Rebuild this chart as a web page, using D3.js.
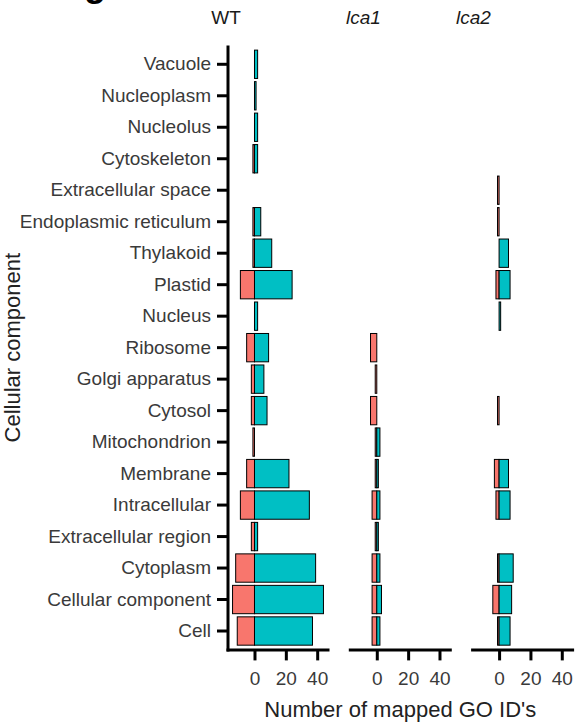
<!DOCTYPE html>
<html>
<head>
<meta charset="utf-8">
<script src="https://cdn.jsdelivr.net/npm/d3@7"></script>
<style>
  html, body { margin: 0; padding: 0; background: #fff; }
  text { font-family: "Liberation Sans", Arial, Helvetica, sans-serif; }
</style>
</head>
<body>
<svg id="chart" width="576" height="726"></svg>
<script>
// Cellular component categories, top to bottom
const categories = [
  "Vacuole", "Nucleoplasm", "Nucleolus", "Cytoskeleton", "Extracellular space",
  "Endoplasmic reticulum", "Thylakoid", "Plastid", "Nucleus", "Ribosome",
  "Golgi apparatus", "Cytosol", "Mitochondrion", "Membrane", "Intracellular",
  "Extracellular region", "Cytoplasm", "Cellular component", "Cell"
];

const genotypes = ["WT", "lca1", "lca2"];

// Number of mapped GO IDs per category: down-regulated (negative) and up-regulated (positive).
// null means no bar for that category.
const wtDown   = [null, null, null, -1, null, -1, -1, -9, null, -5, -2, -2, -1, -5, -9, -2, -12, -14, -11];
const wtUp     = [2, 1, 2, 2, null, 4, 11, 24, 2, 9, 6, 8, null, 22, 35, 2, 39, 44, 37];
const lca1Down = [null, null, null, null, null, null, null, null, null, -4, -1, -4, -1, -1, -3, -1, -3, -3, -3];
const lca1Up   = [null, null, null, null, null, null, null, null, null, null, null, null, 2, 1, 2, 1, 2, 3, 2];
const lca2Down = [null, null, null, null, -1, -1, null, -2, null, null, null, -1, null, -3, -2, null, -1, -4, -1];
const lca2Up   = [null, null, null, null, null, null, 6, 7, 1, null, null, null, null, 6, 7, null, 9, 8, 7];

const xTicks = [0, 20, 40];

const downByGroup = [wtDown, lca1Down, lca2Down];
const upByGroup = [wtUp, lca1Up, lca2Up];

const colorDown = "#F8766D";
const colorUp = "#00BFC4";

const svg = d3.select("#chart");

// layout
const panelW = 100, panelGap = 22.3, firstLeft = 228;
const plotTop = 45.4, plotBottom = 649.9;

const y = d3.scaleBand()
  .domain(categories)
  .range([plotTop, plotBottom])
  .paddingInner(0.1)
  .paddingOuter(0.15);

const allVals = downByGroup.concat(upByGroup).flat().filter(v => v !== null);
const ext = d3.extent(allVals);
const pad = (ext[1] - ext[0]) * 0.05;
const x = d3.scaleLinear().domain([ext[0] - pad, ext[1] + pad]).range([0, panelW]);

// panel label
svg.append("text")
  .attr("x", 84).attr("y", -4)
  .attr("font-size", 36).attr("font-weight", "bold")
  .attr("fill", "#000")
  .text("g");

// y axis (shared, left of first panel)
const yAxis = svg.append("g")
  .attr("transform", `translate(${firstLeft},0)`)
  .call(d3.axisLeft(y).tickSize(11).tickPadding(6).tickSizeOuter(0));
yAxis.select(".domain").remove();
yAxis.selectAll(".tick line").attr("stroke", "#000").attr("stroke-width", 3);
yAxis.selectAll(".tick text")
  .attr("font-size", 19)
  .attr("fill", "#3a3a3a")
  .style("font-family", '"Liberation Sans", Arial, sans-serif');
yAxis.append("line")
  .attr("x1", 0).attr("x2", 0)
  .attr("y1", plotTop).attr("y2", plotBottom + 1.5)
  .attr("stroke", "#000").attr("stroke-width", 3);

genotypes.forEach((gname, i) => {
  const left = firstLeft + i * (panelW + panelGap);
  const g = svg.append("g").attr("transform", `translate(${left},0)`);

  const rows = categories.map((c, j) => ({ cat: c, down: downByGroup[i][j], up: upByGroup[i][j] }));

  // down-regulated bars (left of zero)
  g.selectAll("rect.down")
    .data(rows.filter(d => d.down !== null))
    .join("rect")
    .attr("class", "down")
    .attr("x", d => x(d.down))
    .attr("width", d => x(0) - x(d.down))
    .attr("y", d => y(d.cat))
    .attr("height", y.bandwidth())
    .attr("fill", colorDown)
    .attr("stroke", "#000")
    .attr("stroke-width", 1);

  // up-regulated bars (right of zero)
  g.selectAll("rect.up")
    .data(rows.filter(d => d.up !== null))
    .join("rect")
    .attr("class", "up")
    .attr("x", x(0))
    .attr("width", d => x(d.up) - x(0))
    .attr("y", d => y(d.cat))
    .attr("height", y.bandwidth())
    .attr("fill", colorUp)
    .attr("stroke", "#000")
    .attr("stroke-width", 1);

  // bottom axis
  const xAxis = g.append("g")
    .attr("transform", `translate(0,${plotBottom})`)
    .call(d3.axisBottom(x).tickValues(xTicks).tickSize(10.5).tickPadding(11).tickSizeOuter(0));
  xAxis.select(".domain").remove();
  xAxis.append("line")
    .attr("x1", 0).attr("x2", panelW)
    .attr("y1", 0).attr("y2", 0)
    .attr("stroke", "#000").attr("stroke-width", 3)
    .attr("stroke-linecap", "square");
  xAxis.selectAll(".tick line").attr("stroke", "#000").attr("stroke-width", 3);
  xAxis.selectAll(".tick text")
    .attr("font-size", 19)
    .attr("fill", "#3a3a3a")
    .style("font-family", '"Liberation Sans", Arial, sans-serif');
});

// genotype labels above the panels
const stripX = [226, 363.5, 473.5];
genotypes.forEach((gname, i) => {
  svg.append("text")
    .attr("x", stripX[i]).attr("y", 24)
    .attr("text-anchor", "middle")
    .attr("font-size", 19)
    .attr("fill", "#1a1a1a")
    .attr("font-style", i === 0 ? "normal" : "italic")
    .text(gname);
});

// axis titles
svg.append("text")
  .attr("x", firstLeft + (3 * panelW + 2 * panelGap) / 2)
  .attr("y", 717)
  .attr("text-anchor", "middle")
  .attr("font-size", 22)
  .attr("fill", "#222")
  .text("Number of mapped GO ID's");

svg.append("text")
  .attr("transform", `translate(19.5,${(plotTop + plotBottom) / 2}) rotate(-90)`)
  .attr("text-anchor", "middle")
  .attr("font-size", 22)
  .attr("fill", "#222")
  .text("Cellular component");
</script>
</body>
</html>
